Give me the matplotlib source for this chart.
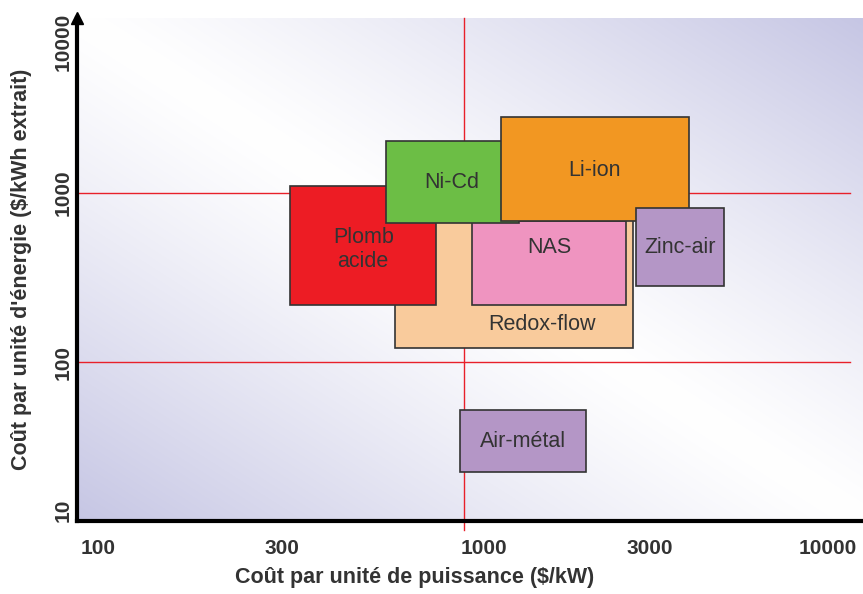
import numpy as np
import matplotlib
matplotlib.use("Agg")
import matplotlib.pyplot as plt
from matplotlib.patches import Rectangle
from matplotlib.transforms import ScaledTranslation

plt.rcParams['font.family'] = ['Liberation Sans', 'DejaVu Sans']

# technologies: power cost range ($/kW) and energy cost range ($/kWh)
names = ['Redox-flow', 'NAS', 'Plomb\nacide', 'Ni-Cd', 'Li-ion', 'Zinc-air', 'Air-métal']
power_lo = [652, 1051, 340, 616, 1258, 2908, 975]
power_hi = [2855, 2734, 841, 1407, 4036, 5021, 2133]
energy_lo = [121, 217, 217, 664, 683, 282, 22.3]
energy_hi = [700, 680, 1100, 2030, 2817, 815, 52]
colors = ['#F9CB9C', '#EF94C0', '#ED1C24', '#6CBE45', '#F29722', '#B496C6', '#B496C6']
# where the label sits (some are not at the box centre)
label_x = [1623, 1694, 535, 928, 2254, 3819, 1442]
label_y = [166, 479, 463, 1146, 1368, 479, 33.7]

xticks = [100, 300, 1000, 3000, 10000]
yticks = [100, 1000, 10000]
# the drawing puts the tick texts a little off their ticks (pixels)
xlabel_shift = [5, 12, 20, 9, -7]

fig = plt.figure(figsize=(8.63, 5.94), dpi=100)
ax = fig.add_axes([77 / 863, 73 / 594, 786 / 863, 503 / 594])
ax.set_xscale('log')
ax.set_yscale('log')
ax.set_xlim(90.56, 11899)
ax.set_ylim(11.46, 10852)

# diagonal background gradient: lavender in two corners, white across the middle
n = 300
u, v = np.meshgrid(np.linspace(0, 1, n), np.linspace(0, 1, n))
t = np.abs((u + v) / 2 - 0.5) * 2
lav = np.array([198, 198, 228]) / 255.0
img = 1 - t[..., None] ** 1.2 * (1 - lav)
ax.imshow(img, extent=[0, 1, 0, 1], transform=ax.transAxes, origin='lower',
          aspect='auto', zorder=0, interpolation='bilinear')

# red reference lines
ax.axvline(1000, ymin=-0.018, ymax=1, color='#E8202A', lw=1.0, clip_on=False, zorder=1)
for yv in [100, 1000]:
    ax.axhline(yv, xmin=0, xmax=0.983, color='#E8202A', lw=1.0, zorder=1)

for i, name in enumerate(names):
    r = Rectangle((power_lo[i], energy_lo[i]), power_hi[i] - power_lo[i],
                  energy_hi[i] - energy_lo[i], facecolor=colors[i],
                  edgecolor='#333333', lw=1.2, zorder=2 + i)
    ax.add_patch(r)
    ax.text(label_x[i], label_y[i], name, ha='center', va='center',
            fontsize=15.5, color='#333333', zorder=2 + i, linespacing=1.15)

for s in ['top', 'right']:
    ax.spines[s].set_visible(False)
for s in ['left', 'bottom']:
    ax.spines[s].set_linewidth(3)
    ax.spines[s].set_color('black')
    ax.spines[s].set_zorder(20)
# arrow on the y axis
ax.plot(0, 1.0, marker='^', color='black', markersize=8, transform=ax.transAxes,
        clip_on=False, zorder=21)

ax.set_xticks(xticks)
ax.set_xticklabels([str(x) for x in xticks])
ax.set_xticks([300, 3000], minor=True)
ax.set_xticklabels([], minor=True)
ax.tick_params(axis='x', which='major', length=0, pad=13, labelsize=15, labelcolor='#333333')
ax.tick_params(axis='x', which='minor', length=22, width=1, direction='inout', color='#222222')

# the axis origin is labelled 10, as in the original drawing
ax.set_yticks([11.46] + yticks)
ax.set_yticklabels(['10'] + [str(y) for y in yticks], rotation=90, va='center')
ax.yaxis.set_minor_locator(matplotlib.ticker.NullLocator())
ax.tick_params(axis='y', length=0, pad=3, labelsize=15, labelcolor='#333333')

for lbl in ax.get_xticklabels() + ax.get_yticklabels():
    lbl.set_fontweight('bold')
for lbl, dx in zip(ax.get_xticklabels(), xlabel_shift):
    lbl.set_transform(lbl.get_transform() + ScaledTranslation(dx / 100, 0, fig.dpi_scale_trans))
ylbls = ax.get_yticklabels()
ylbls[0].set_transform(ylbls[0].get_transform() + ScaledTranslation(0, 0.11, fig.dpi_scale_trans))
ylbls[-1].set_transform(ylbls[-1].get_transform() + ScaledTranslation(0, -0.18, fig.dpi_scale_trans))

ax.set_xlabel('Coût par unité de puissance ($/kW)', fontsize=15.5, fontweight='bold',
              color='#333333')
ax.xaxis.set_label_coords(0.429, -0.113)
ax.xaxis.label.set_va('center')
ax.set_ylabel("Coût par unité d'énergie ($/kWh extrait)", fontsize=15.5, fontweight='bold',
              color='#333333')
ax.yaxis.set_label_coords(-0.07, 0.5)
ax.yaxis.label.set_va('center')

fig.savefig('out.png', dpi=100)
